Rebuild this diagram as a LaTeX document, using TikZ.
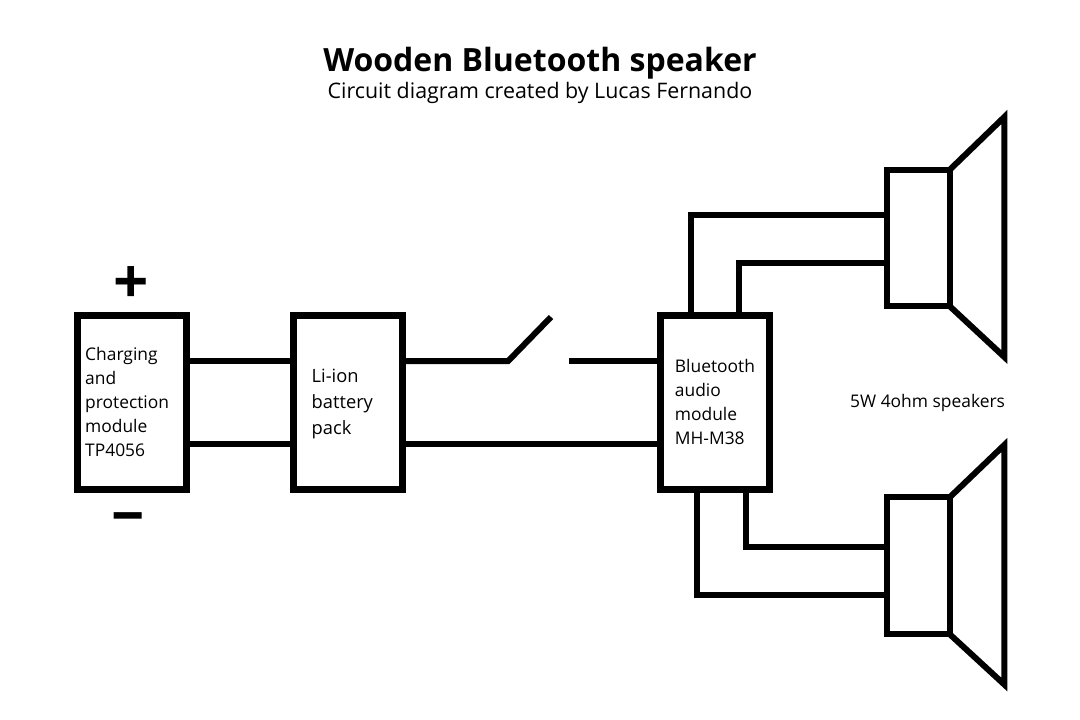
\documentclass[tikz,border=0pt]{standalone}
\usepackage{fontspec}
\setmainfont{Open Sans}
\begin{document}
\begin{tikzpicture}[x=1pt,y=-1pt,
  wire/.style={line width=6pt,line cap=butt,line join=miter},
  boxn/.style={draw,line width=7pt,inner sep=0pt,anchor=north west,minimum width=109pt,minimum height=174pt},
  spk/.style={draw,line width=6pt,inner sep=0pt,anchor=north west,minimum width=63.4pt,minimum height=136.6pt},
  lab/.style={align=left,anchor=west,font=\fontsize{17.4}{24}\selectfont,inner sep=0pt},
]
\useasboundingbox (0,0) rectangle (1080,720);
\fill[white] (0,0) rectangle (1080,720);
\node[font=\fontsize{32}{38}\selectfont\bfseries,inner sep=0pt] (title) at (540,63.5) {Wooden Bluetooth speaker};
\node[font=\fontsize{21.4}{26}\selectfont,inner sep=0pt] (sub) at (540,93) {Circuit diagram created by Lucas Fernando};
\node[boxn] (chg) at (73.5,311.7) {};
\node[boxn] (bat) at (290,311.7) {};
\node[boxn] (bt) at (657.3,311.7) {};
\node[lab] (t1) at (85,402) {Charging\\and\\protection\\module\\TP4056};
\node[lab,font=\fontsize{18.3}{26}\selectfont] (t2) at (311.5,404) {Li-ion\\battery\\pack};
\node[lab] (t3) at (674.7,402) {Bluetooth\\audio\\module\\MH-M38};
\node[lab] (t4) at (850,403) {5W 4ohm speakers};
\node[font=\fontsize{62}{62}\selectfont\bfseries,inner sep=0pt] (plus) at (131,285.5) {+};
\node[font=\fontsize{58}{58}\selectfont\bfseries,inner sep=0pt,xscale=1.15,transform shape] (minus) at (128.5,522) {–};
% speakers
\node[spk] (s1) at (883.5,166.7) {};
\node[spk] (s2) at (883.5,494.3) {};
\coordinate (k1) at (949.5,170);
\coordinate (k2) at (949.5,306);
\coordinate (k3) at (949.5,497.5);
\coordinate (k4) at (949.5,634);
\draw[wire] (k1) -- (1004.3,117) -- (1004.3,357) -- (k2);
\draw[wire] (k3) -- (1004.3,445) -- (1004.3,684.5) -- (k4);
% wires
\draw[wire] ([yshift=41pt]chg.east) -- ([yshift=41pt]bat.west);
\draw[wire] ([yshift=-42pt]chg.east) -- ([yshift=-42pt]bat.west);
\draw[wire] ([yshift=-42pt]bat.east) -- ([yshift=-42pt]bt.west);
\coordinate (sw1) at (508,361.2);
\coordinate (sw2) at (551,317);
\coordinate (sw3) at (569,361.2);
\draw[wire] ([yshift=41pt]bat.east) -- (sw1) -- (sw2);
\draw[wire] (sw3) -- ([yshift=41pt]bt.west);
\draw[wire] ([xshift=-24.7pt]bt.north) |- ([yshift=23.4pt]s1.west);
\draw[wire] ([xshift=24pt]bt.north) |- ([yshift=-24.6pt]s1.west);
\draw[wire] ([xshift=31pt]bt.south) |- ([yshift=18.4pt]s2.west);
\draw[wire] ([xshift=-18.3pt]bt.south) |- ([yshift=-29.1pt]s2.west);
\end{tikzpicture}
\end{document}
